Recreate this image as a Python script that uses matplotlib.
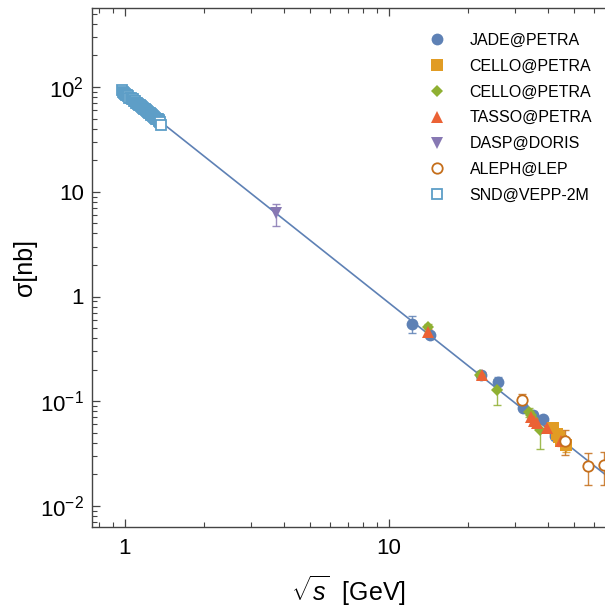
import matplotlib
matplotlib.use("Agg")
import matplotlib.pyplot as plt
import numpy as np
from matplotlib.ticker import FixedLocator, LogLocator, NullFormatter

plt.rcParams['font.family'] = ['Liberation Sans', 'DejaVu Sans']
plt.rcParams['mathtext.fontset'] = 'custom'
plt.rcParams['mathtext.rm'] = 'Liberation Sans'
plt.rcParams['mathtext.it'] = 'Liberation Sans:italic'
plt.rcParams['mathtext.sf'] = 'Liberation Sans'

# ---------------- data ----------------
jade_x = [12.2, 14.3, 22.3, 25.9, 32.3, 35.0, 38.4, 42.5]
jade_y = [0.55, 0.43, 0.18, 0.152, 0.087, 0.074, 0.068, 0.047]
jade_e = [0.10, 0.03, 0.015, 0.02, 0.007, 0.006, 0.005, 0.004]

cello_sq_x = [41.9, 43.1, 44.2, 45.0, 47.0]
cello_sq_y = [0.055, 0.049, 0.046, 0.042, 0.038]
cello_sq_e = [0.006, 0.005, 0.005, 0.005, 0.005]

cello_di_x = [14.0, 22.2, 25.6, 33.8, 34.5, 35.0, 37.3]
cello_di_y = [0.51, 0.178, 0.128, 0.079, 0.074, 0.067, 0.053]
cello_di_e = [0.04, 0.015, 0.035, 0.008, 0.007, 0.006, 0.018]

tasso_x = [14.1, 22.5, 34.5, 35.5, 36.5, 39.5, 44.8]
tasso_y = [0.46, 0.177, 0.070, 0.065, 0.062, 0.055, 0.042]
tasso_e = [0.03, 0.012, 0.005, 0.005, 0.005, 0.004, 0.004]

dasp_x = [3.72]
dasp_y = [6.2]
dasp_e = [1.5]

aleph_x = [31.8, 46.3, 56.9, 65.2]
aleph_y = [0.103, 0.042, 0.024, 0.0245]
aleph_e = [0.015, 0.011, 0.008, 0.0085]

snd_x = [0.975, 0.98, 0.99, 1.00, 1.01, 1.02, 1.03, 1.04, 1.05, 1.06, 1.07,
         1.08, 1.09, 1.10, 1.11, 1.12, 1.13, 1.14, 1.15, 1.16, 1.17, 1.18,
         1.19, 1.20, 1.21, 1.22, 1.23, 1.24, 1.25, 1.26, 1.27, 1.28, 1.29,
         1.30, 1.31, 1.32, 1.33, 1.34, 1.35, 1.36, 1.37]
snd_y = [94.0, 90.0, 88.0, 85.0, 84.0, 83.0, 82.0, 79.0, 78.0, 77.0, 76.0,
         74.0, 73.0, 71.0, 71.0, 69.0, 68.0, 67.0, 66.0, 65.0, 63.0, 62.0,
         61.0, 60.0, 59.0, 58.0, 57.0, 56.0, 55.0, 54.5, 54.0, 53.0, 52.0,
         51.0, 50.0, 49.5, 49.0, 48.0, 47.0, 46.5, 43.5]
snd_e = [2.5, 2.2, 2.2, 2.0, 2.0, 2.0, 2.0, 2.0, 2.0, 2.0, 2.0,
         2.0, 2.0, 2.0, 2.0, 1.8, 1.8, 1.8, 1.8, 1.8, 1.8, 1.8,
         1.7, 1.7, 1.7, 1.7, 1.7, 1.6, 1.6, 1.6, 1.6, 1.6, 1.5,
         1.5, 1.5, 1.5, 1.5, 1.5, 1.5, 1.5, 1.5]

qed_norm = 86.8          # nb GeV^2, point-like cross section 4πα²/3s
line_range = [0.98, 70.0]

y_ticks = [1e-2, 1e-1, 1, 10, 1e2]
y_ticklabels = [r'$10^{-2}$', r'$10^{-1}$', '1', '10', r'$10^{2}$']
x_ticks = [1, 10]
x_ticklabels = ['1', '10']

# ---------------- colors ----------------
c_blue = '#5E81B5'
c_orange = '#E19C24'
c_green = '#8FB032'
c_red = '#EB6235'
c_purple = '#8778B3'
c_brown = '#C56E1A'
c_lblue = '#5D9EC7'

fig = plt.figure(figsize=(6.05, 6.12), dpi=100)
ax = fig.add_axes([92/605, 1-527/612, 1 - 92/605, (527-8)/612])
ax.set_xscale('log')
ax.set_yscale('log')

# theory line
xl = np.logspace(np.log10(line_range[0]), np.log10(line_range[1]), 200)
ax.plot(xl, qed_norm / xl**2, color=c_blue, lw=1.2, zorder=2)

def series(x, y, e, color, marker, ms, label, fill=True, mew=1.0):
    ax.errorbar(x, y, yerr=e, fmt='none', ecolor=color, elinewidth=1.0,
                capsize=3, capthick=1.0, alpha=0.85, zorder=3)
    if fill:
        ax.plot(x, y, linestyle='none', marker=marker, ms=ms, color=color,
                markeredgewidth=0, label=label, zorder=4)
    else:
        ax.plot(x, y, linestyle='none', marker=marker, ms=ms, markerfacecolor='white',
                markeredgecolor=color, markeredgewidth=mew, label=label, zorder=4)

series(jade_x, jade_y, jade_e, c_blue, 'o', 8.5, 'JADE@PETRA')
series(cello_sq_x, cello_sq_y, cello_sq_e, c_orange, 's', 8, 'CELLO@PETRA')
series(cello_di_x, cello_di_y, cello_di_e, c_green, 'D', 6.5, 'CELLO@PETRA')
series(tasso_x, tasso_y, tasso_e, c_red, '^', 9, 'TASSO@PETRA')
series(dasp_x, dasp_y, dasp_e, c_purple, 'v', 9, 'DASP@DORIS')
series(aleph_x, aleph_y, aleph_e, c_brown, 'o', 7.5, 'ALEPH@LEP', fill=False, mew=1.3)
series(snd_x, snd_y, snd_e, c_lblue, 's', 7.5, 'SND@VEPP-2M', fill=False, mew=1.3)

# limits
px_per_dec_x = 264.0
ax.set_xlim(10**(-33/px_per_dec_x), 10**(480/px_per_dec_x))
ax.set_ylim(10**(-2 - 21/104.75), 10**(2 + 79/104.75))

ax.yaxis.set_major_locator(FixedLocator(y_ticks))
ax.set_yticklabels(y_ticklabels)
ax.xaxis.set_major_locator(FixedLocator(x_ticks))
ax.set_xticklabels(x_ticklabels)
ax.xaxis.set_minor_locator(LogLocator(base=10, subs=np.arange(2, 10) * 1.0, numticks=20))
ax.yaxis.set_minor_locator(LogLocator(base=10, subs=np.arange(2, 10) * 1.0, numticks=20))
ax.xaxis.set_minor_formatter(NullFormatter())
ax.yaxis.set_minor_formatter(NullFormatter())

ax.tick_params(which='both', direction='in', top=True, right=False, colors='#444444',
               labelcolor='black', labelsize=16)
ax.tick_params(which='major', length=6, width=0.9)
ax.tick_params(which='minor', length=3.5, width=0.8)
ax.tick_params(axis='x', pad=8)
ax.tick_params(axis='y', pad=6)

for side in ['left', 'bottom', 'top']:
    ax.spines[side].set_color('#444444')
    ax.spines[side].set_linewidth(1.0)
ax.spines['right'].set_visible(False)

ax.set_ylabel('σ[nb]', fontsize=18, labelpad=2)
ax.set_xlabel(r'$\sqrt{s}$  [GeV]', fontsize=18, labelpad=10)

leg = ax.legend(loc='upper right', bbox_to_anchor=(1.003, 0.98), frameon=False,
                fontsize=11.5, handletextpad=1.3, labelspacing=0.68,
                borderaxespad=0.5, numpoints=1, handlelength=1.5)

fig.savefig('out.png', dpi=100)
